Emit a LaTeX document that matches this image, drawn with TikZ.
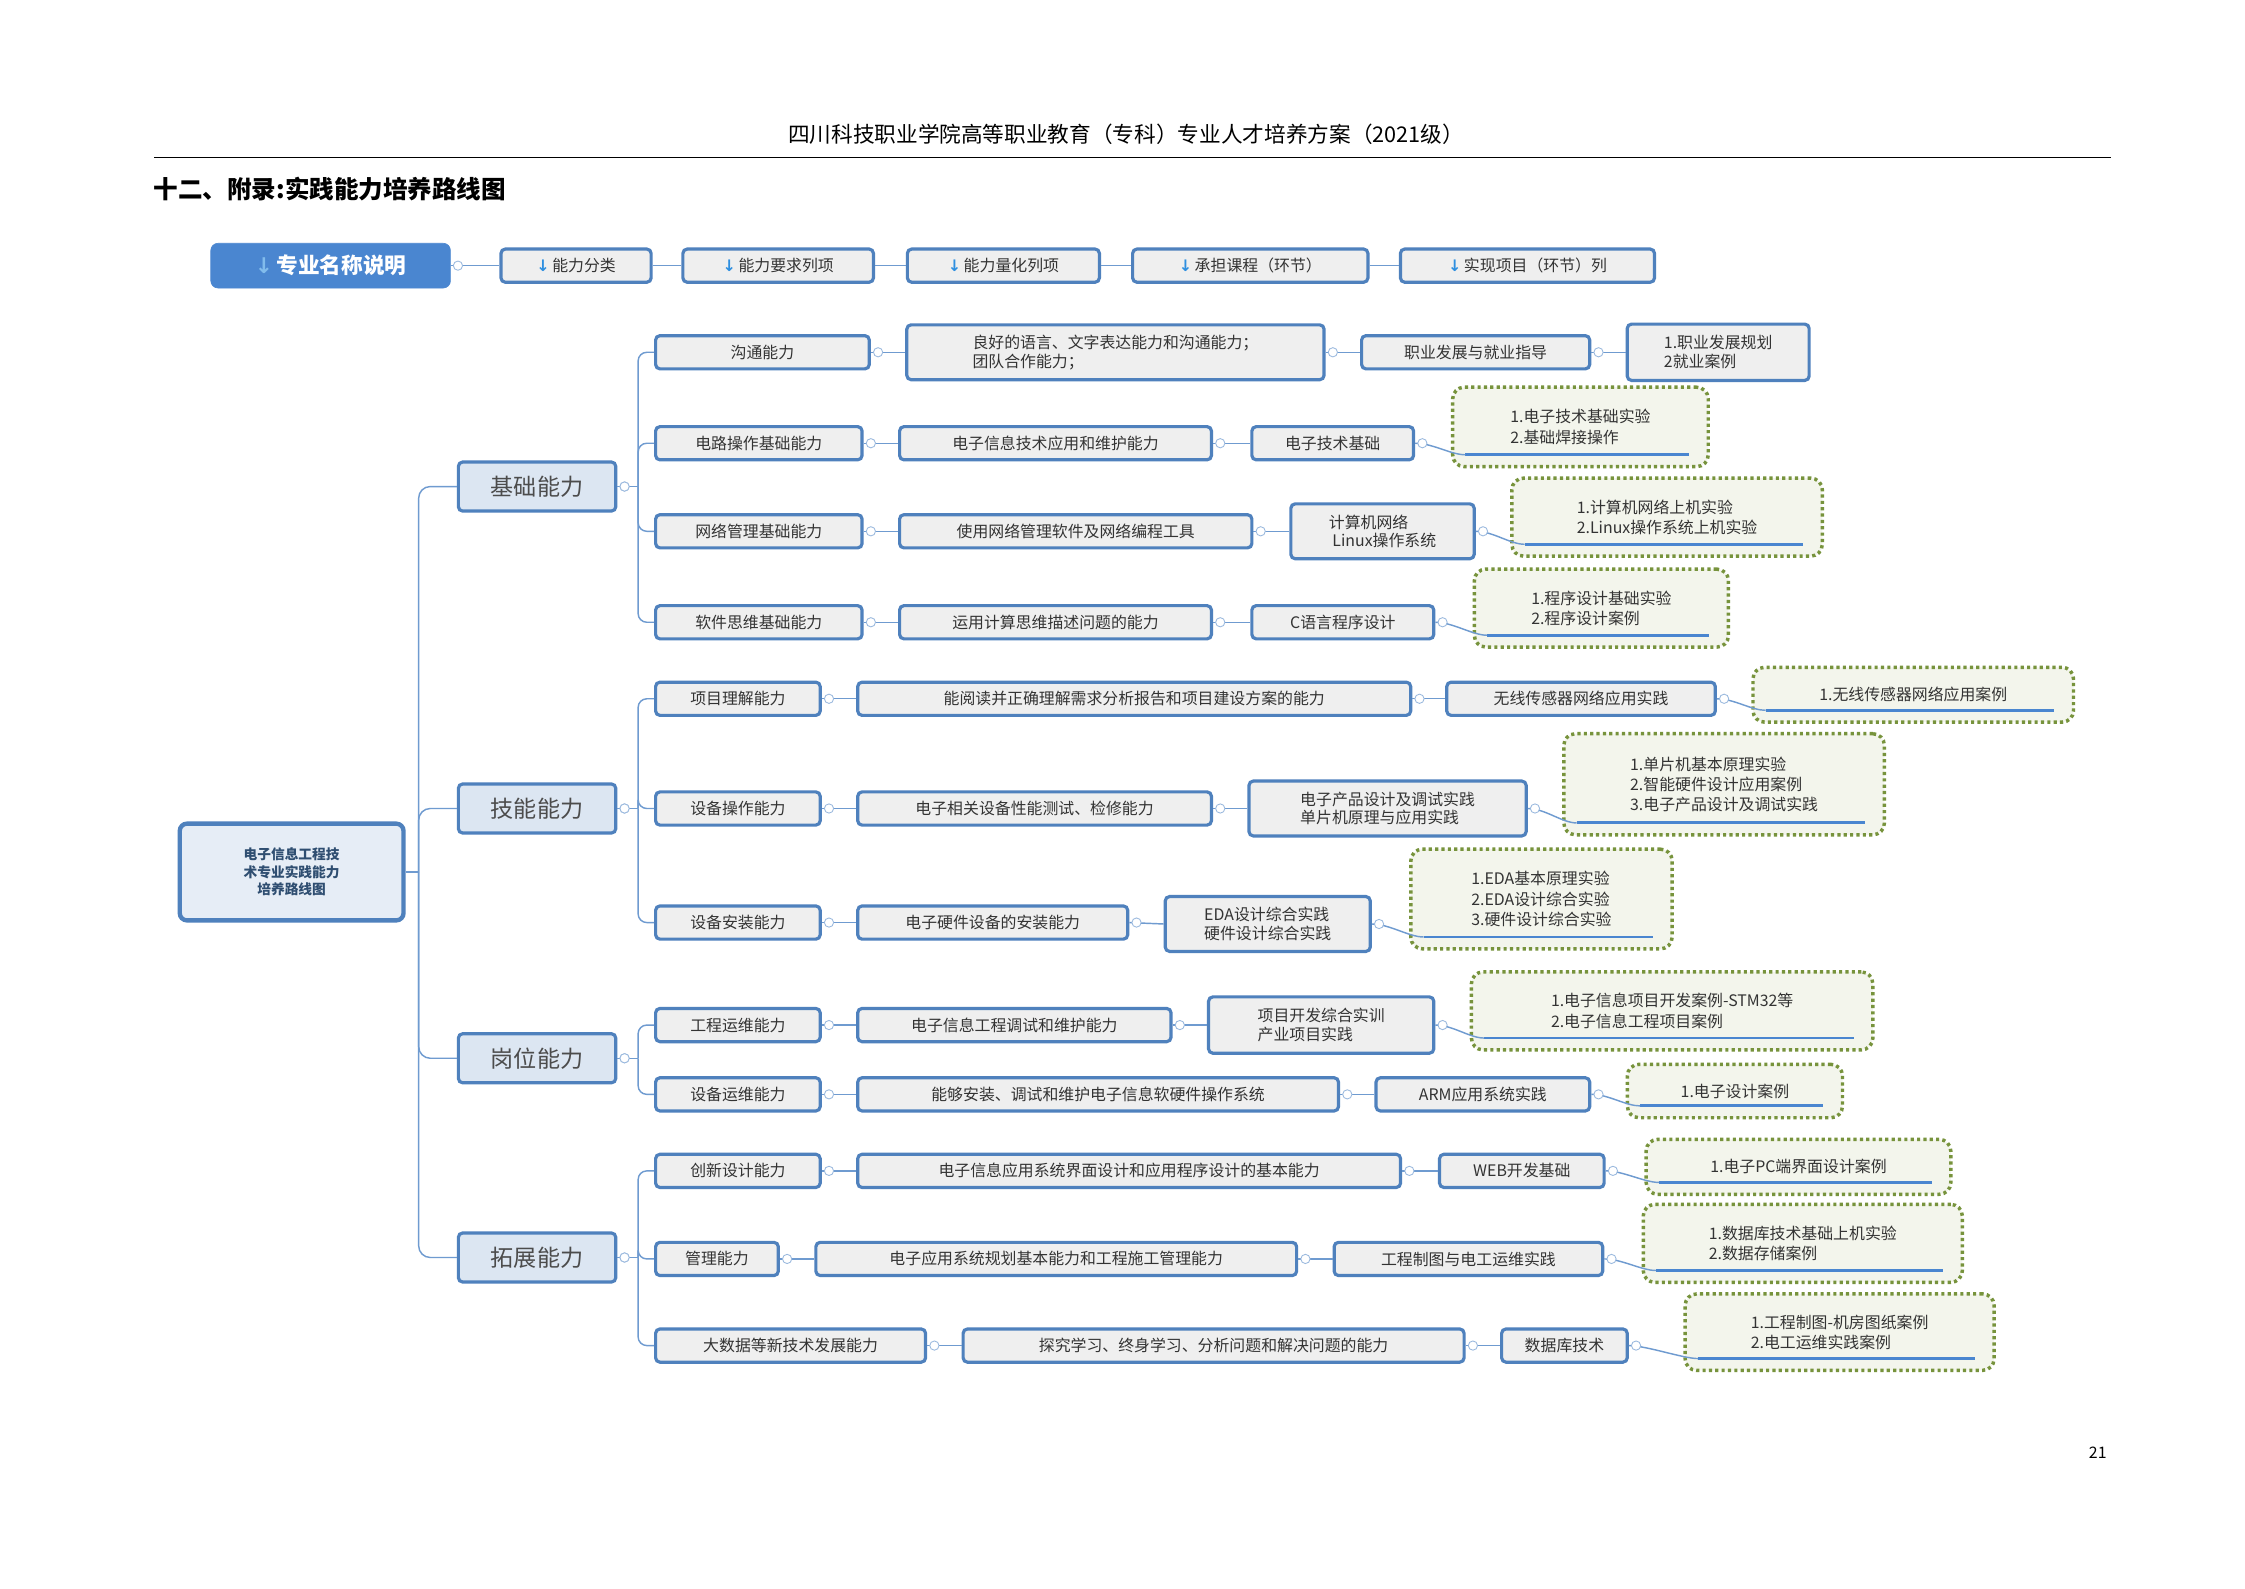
\documentclass[tikz,border=0pt]{standalone}
\usepackage{fontspec}
\setmainfont{Noto Sans CJK SC}
\newfontfamily\symf{DejaVu Sans}
\usetikzlibrary{calc}
\definecolor{bb}{HTML}{4F81BD}
\definecolor{cl}{HTML}{6F9BD0}
\definecolor{gf}{HTML}{EFEFEF}
\definecolor{l1f}{HTML}{DCE6F2}
\definecolor{gr}{HTML}{77933C}
\definecolor{gfill}{HTML}{F3F5EC}
\definecolor{tx}{HTML}{333333}
\definecolor{hb}{HTML}{4A86D0}
\definecolor{arr}{HTML}{2E8FE0}
\tikzset{
 x=1pt,y=-1pt,
 bx/.style={draw=bb,line width=2.2pt,fill=gf,rounded corners=3pt,minimum height=23pt,inner sep=2pt,font=\fontsize{11}{13}\selectfont,text=tx,align=left},
 l1/.style={bx,fill=l1f,minimum height=34pt,minimum width=109pt,font=\fontsize{16}{18}\selectfont,text=black!70},
 gb/.style={draw=gr,line width=2.4pt,dash pattern=on 2.2pt off 2.2pt,fill=gfill,rounded corners=8pt,font=\fontsize{11}{14}\selectfont,text=tx,align=left,inner sep=2pt},
 conn/.style={draw=cl,line width=1pt},
 knob/.style={draw=cl!70,fill=white,line width=0.6pt},
 ul/.style={draw=hb,line width=2pt},
}
\newcommand\kn[1]{\draw[knob] ([xshift=5pt]#1.east) circle (3.2pt);}
\newcommand\lk[2]{\draw[conn] (#1.east) -- (#2.west);\kn{#1}}
\newcommand\ar{{\symf\bfseries\textcolor{arr}{↓}}\,}
\newcommand\gbox[6]{% name x1 x2 y1 y2 text
 \node[gb,minimum width=#3-#2,minimum height=#5-#4,anchor=north west] (#1) at (#2,#4) {#6};
 \coordinate (#1u) at (#2+10,#5-7);
 \draw[ul] (#1u) -- (#3-12,#5-7);}
\newcommand\clk[2]{\draw[conn] (#1.east) .. controls +(12,0) and +(-10,0) .. (#2u);\kn{#1}}
\begin{document}
\begin{tikzpicture}
\useasboundingbox[fill=white] (0,0) rectangle (1555,1100);
% header
\node[font=\fontsize{15}{17}\selectfont] (hd) at (780,93) {四川科技职业学院高等职业教育（专科）专业人才培养方案（2021级）};
\draw[line width=0.6pt] (107,109) -- (1462,109);
\node[font=\fontsize{17}{19}\selectfont\bfseries,anchor=west] (tt) at (103,131) {十二、附录:实践能力培养路线图};
\node[font=\fontsize{11}{13}\selectfont] (pg) at (1453,1006) {21};
% top row
\node[draw=hb,fill=hb,rounded corners=5pt,minimum width=166pt,minimum height=31pt,text=white,font=\fontsize{15}{17}\selectfont\bfseries] (h0) at (229,184) {{\symf\textcolor{arr!60}{↓}}\,专业名称说明};
\node[bx,minimum width=104pt] (h1) at (399,184) {\ar 能力分类};
\node[bx,minimum width=132pt] (h2) at (539,184) {\ar 能力要求列项};
\node[bx,minimum width=133pt] (h3) at (695,184) {\ar 能力量化列项};
\node[bx,minimum width=163pt] (h4) at (866,184) {\ar 承担课程（环节）};
\node[bx,minimum width=176pt] (h5) at (1058,184) {\ar 实现项目（环节）列};
\lk{h0}{h1}\draw[conn](h1)--(h2);\draw[conn](h2)--(h3);\draw[conn](h3)--(h4);\draw[conn](h4)--(h5);
% root
\node[draw=bb,line width=3pt,fill=l1f!70,rounded corners=5pt,minimum width=155pt,minimum height=67pt,align=center,font=\fontsize{9.5}{12}\selectfont\bfseries,text=bb!60!black] (root) at (202,604) {电子信息工程技\\术专业实践能力\\培养路线图};
% level1
\node[l1] (A) at (372,337) {基础能力};
\node[l1] (B) at (372,560) {技能能力};
\node[l1] (C) at (372,733) {岗位能力};
\node[l1] (D) at (372,871) {拓展能力};
\draw[conn] (root.east) -- (290,604);
\foreach \n in {A,B,C,D}{\draw[conn,rounded corners=8pt] (290,604) |- (\n.west);}
\foreach \n in {A,B,C,D}{\kn{\n}}
% level2
\newcommand\two[4]{\node[bx,minimum width=#3-453,anchor=west] (#1) at (453,#2) {#4};}
\two{a1}{244}{601}{沟通能力}
\two{a2}{307}{596}{电路操作基础能力}
\two{a3}{368}{596}{网络管理基础能力}
\two{a4}{431}{596}{软件思维基础能力}
\two{b1}{484}{567}{项目理解能力}
\two{b2}{560}{567}{设备操作能力}
\two{b3}{639}{567}{设备安装能力}
\two{c1}{710}{567}{工程运维能力}
\two{c2}{758}{567}{设备运维能力}
\two{d1}{811}{567}{创新设计能力}
\two{d2}{872}{538}{管理能力}
\two{d3}{932}{640}{大数据等新技术发展能力}
\foreach \p/\cs in {A/{a1,a2,a3,a4},B/{b1,b2,b3},C/{c1,c2},D/{d1,d2,d3}}{
 \draw[conn] (\p.east) -- (442,0|-\p.east);
 \foreach \c in \cs {\draw[conn,rounded corners=6pt] (442,0|-\p.east) |- (\c.west);}
 \kn{\p}}
% level3
\newcommand\thr[5]{\node[bx,minimum width=#4-#3,anchor=west] (#1) at (#3,#2) {#5};}
\node[bx,minimum width=289pt,minimum height=38pt,anchor=west] (a1x) at (627,244) {良好的语言、文字表达能力和沟通能力；\\团队合作能力；};
\thr{a2x}{307}{622}{838}{电子信息技术应用和维护能力}
\thr{a3x}{368}{622}{866}{使用网络管理软件及网络编程工具}
\thr{a4x}{431}{622}{838}{运用计算思维描述问题的能力}
\thr{b1x}{484}{593}{976}{能阅读并正确理解需求分析报告和项目建设方案的能力}
\thr{b2x}{560}{593}{838}{电子相关设备性能测试、检修能力}
\thr{b3x}{639}{593}{780}{电子硬件设备的安装能力}
\thr{c1x}{710}{593}{810}{电子信息工程调试和维护能力}
\thr{c2x}{758}{593}{926}{能够安装、调试和维护电子信息软硬件操作系统}
\thr{d1x}{811}{593}{969}{电子信息应用系统界面设计和应用程序设计的基本能力}
\thr{d2x}{872}{564}{897}{电子应用系统规划基本能力和工程施工管理能力}
\thr{d3x}{932}{666}{1013}{探究学习、终身学习、分析问题和解决问题的能力}
% level4
\thr{a1y}{244}{942}{1100}{职业发展与就业指导}
\thr{a2y}{307}{866}{978}{电子技术基础}
\node[bx,minimum width=127pt,minimum height=38pt,anchor=west] (a3y) at (893,368) {计算机网络\\\ Linux操作系统};
\thr{a4y}{431}{866}{992}{C语言程序设计}
\thr{b1y}{484}{1001}{1187}{无线传感器网络应用实践}
\node[bx,minimum width=192pt,minimum height=38pt,anchor=west] (b2y) at (864,560) {电子产品设计及调试实践\\单片机原理与应用实践};
\node[bx,minimum width=142pt,minimum height=38pt,anchor=west] (b3y) at (806,640) {EDA设计综合实践\\硬件设计综合实践};
\node[bx,minimum width=156pt,minimum height=39pt,anchor=west] (c1y) at (836,710) {项目开发综合实训\\产业项目实践};
\thr{c2y}{758}{952}{1100}{ARM应用系统实践}
\thr{d1y}{811}{996}{1110}{WEB开发基础}
\thr{d2y}{872}{923}{1109}{工程制图与电工运维实践}
\thr{d3y}{932}{1039}{1126}{数据库技术}
\foreach \n in {a1,a2,a3,a4,b1,b2,b3,c1,c2,d1,d2,d3}{\lk{\n}{\n x}\lk{\n x}{\n y}}
% level5
\node[bx,minimum width=126pt,minimum height=39pt,anchor=west] (a1z) at (1126,244) {1.职业发展规划\\2就业案例};
\lk{a1y}{a1z}
\gbox{a2z}{1005}{1182}{267}{322}{1.电子技术基础实验\\2.基础焊接操作}
\gbox{a3z}{1046}{1261}{330}{384}{1.计算机网络上机实验\\2.Linux操作系统上机实验}
\gbox{a4z}{1020}{1196}{393}{447}{1.程序设计基础实验\\2.程序设计案例}
\gbox{b1z}{1213}{1435}{461}{499}{1.无线传感器网络应用案例}
\gbox{b2z}{1082}{1304}{507}{577}{1.单片机基本原理实验\\2.智能硬件设计应用案例\\3.电子产品设计及调试实践}
\gbox{b3z}{976}{1157}{587}{656}{1.EDA基本原理实验\\2.EDA设计综合实验\\3.硬件设计综合实验}
\gbox{c1z}{1018}{1296}{672}{726}{1.电子信息项目开发案例-STM32等\\2.电子信息工程项目案例}
\gbox{c2z}{1126}{1275}{736}{773}{1.电子设计案例}
\gbox{d1z}{1139}{1350}{788}{826}{1.电子PC端界面设计案例}
\gbox{d2z}{1137}{1358}{833}{887}{1.数据库技术基础上机实验\\2.数据存储案例}
\gbox{d3z}{1166}{1380}{895}{948}{1.工程制图-机房图纸案例\\2.电工运维实践案例}
\foreach \n in {a2,a3,a4,b1,b2,b3,c1,c2,d1,d2,d3}{\clk{\n y}{\n z}}
\end{tikzpicture}
\end{document}
